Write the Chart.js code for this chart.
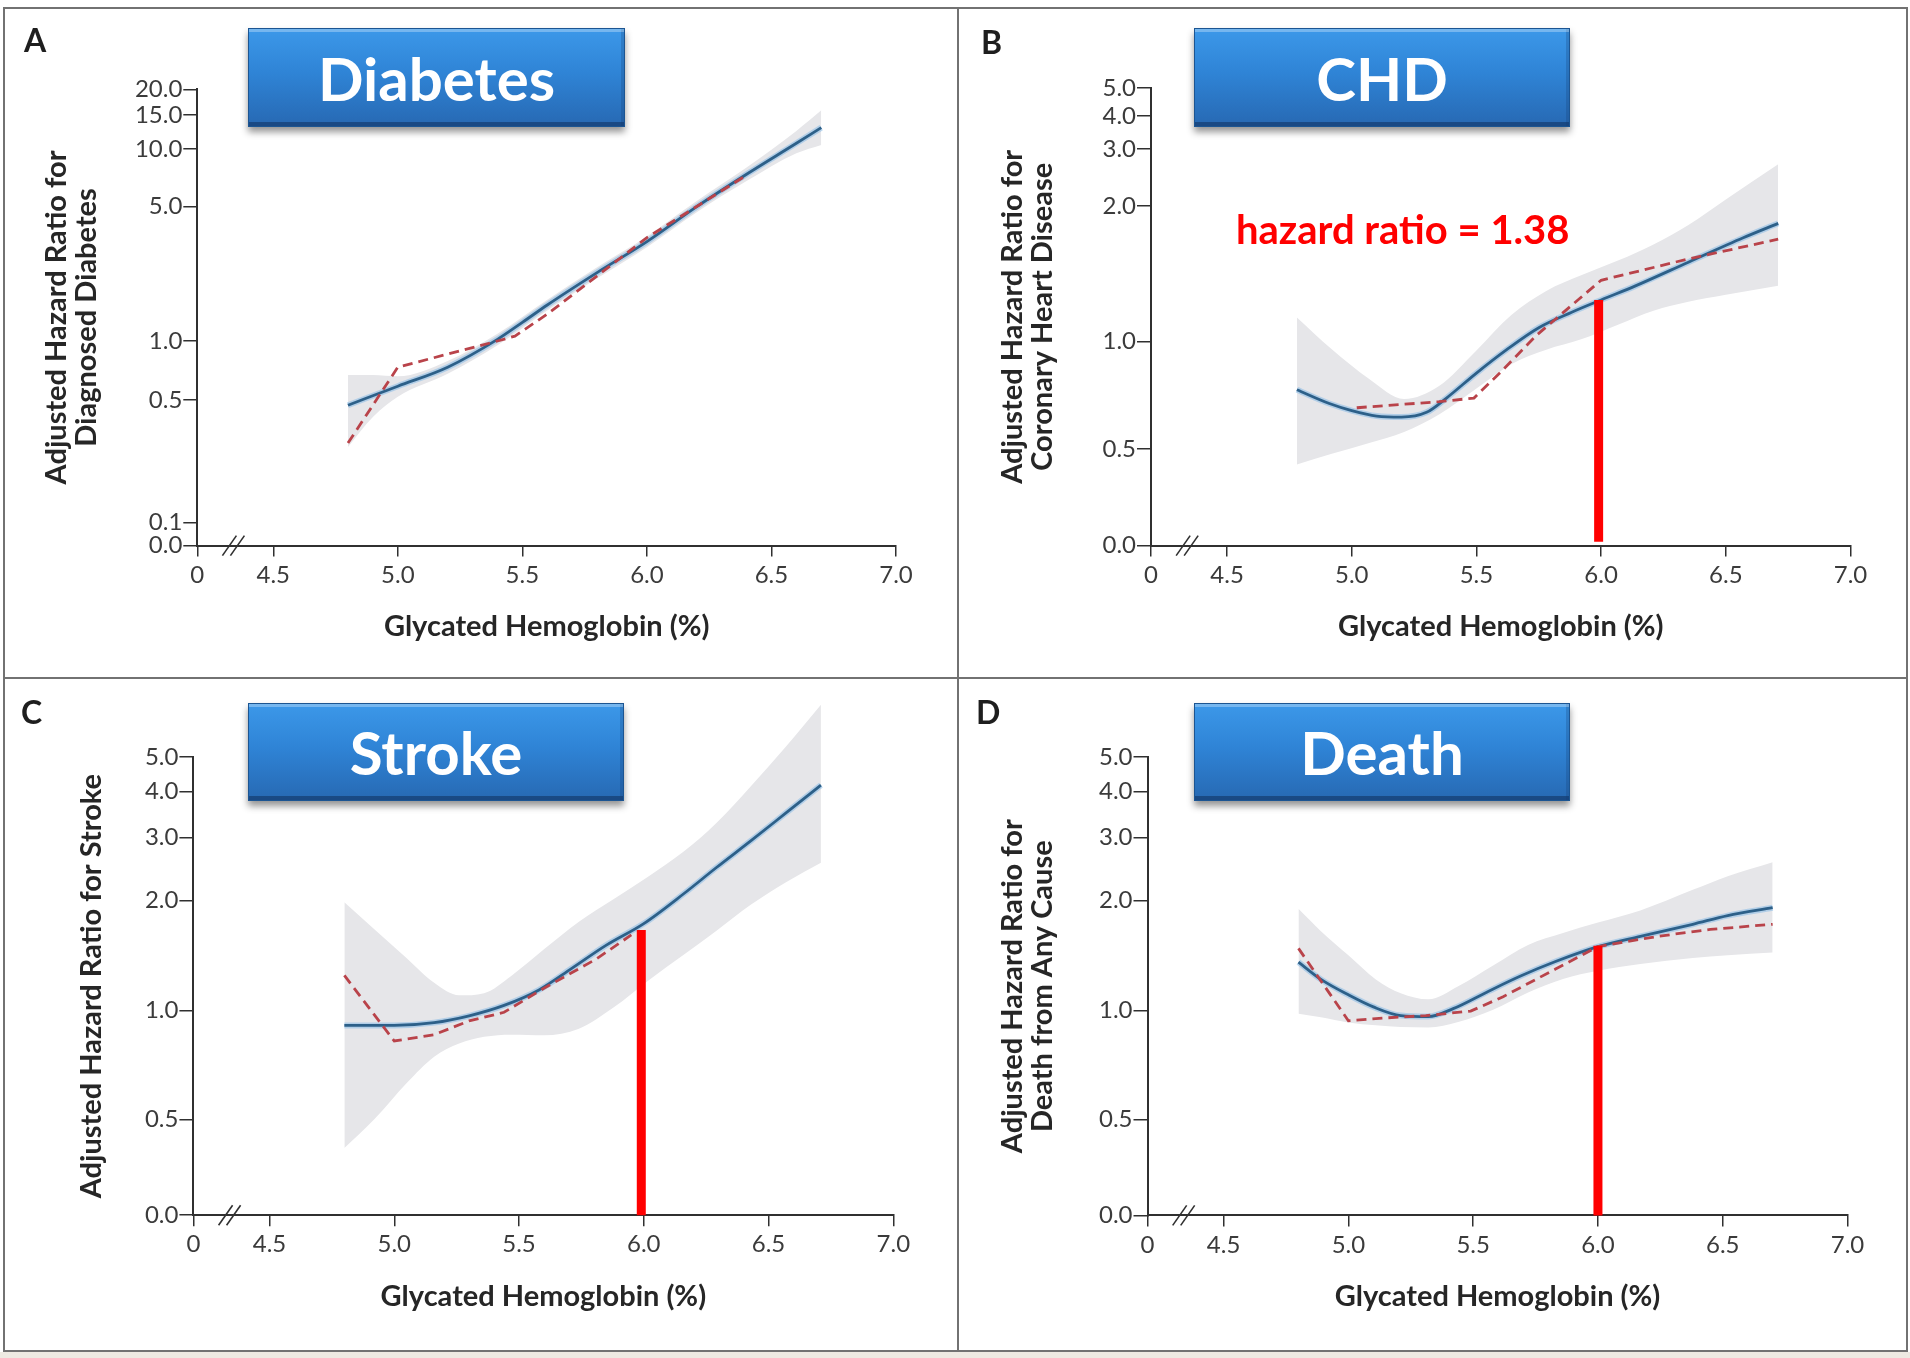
<!DOCTYPE html>
<html lang="en">
<head>
<meta charset="utf-8" />
<title>Glycated Hemoglobin and Adjusted Hazard Ratios</title>
<script src="https://cdn.jsdelivr.net/npm/chart.js@4.4"></script>
<style>
  html,body{margin:0;padding:0;background:#fff;overflow:hidden;}
  #fig{position:relative;width:1910px;height:1358px;background:#fff;font-family:Lato,'Open Sans',Arial,sans-serif;}
  #fig canvas{position:absolute;}
  .rule{position:absolute;background:#727272;}
  #strip{position:absolute;left:0;top:1352px;width:1910px;height:6px;background:#eeeae2;}

  /* panel letters */
  .letter{position:absolute;font:700 32px/32px Lato,sans-serif;color:#1e1e1e;}

  /* blue title badges */
  .badge{position:absolute;box-sizing:border-box;display:flex;align-items:center;justify-content:center;
    color:#fff;font:700 60px Lato,sans-serif;
    background:linear-gradient(#3c98e9 0%,#2f84d6 45%,#2769b3 100%);
    border:1px solid #1c5592;
    box-shadow:inset 0 3px 0 rgba(255,255,255,.30),inset -3px 0 0 rgba(20,60,110,.25),inset 0 -4px 0 rgba(16,52,100,.6),0 5px 7px rgba(0,0,0,.42);}

  .note{position:absolute;color:#ff0000;font:700 40px/40px Lato,sans-serif;white-space:nowrap;}
</style>
</head>
<body>
<div id="fig">
  <canvas id="cA"></canvas>
  <canvas id="cB"></canvas>
  <canvas id="cC"></canvas>
  <canvas id="cD"></canvas>

  <!-- frame -->
  <div class="rule" style="left:3px;top:7px;width:1905px;height:2px"></div>
  <div class="rule" style="left:3px;top:1350px;width:1905px;height:2px"></div>
  <div class="rule" style="left:3px;top:7px;width:2px;height:1345px"></div>
  <div class="rule" style="left:1906px;top:7px;width:2px;height:1345px"></div>
  <div class="rule" style="left:957px;top:7px;width:2px;height:1345px"></div>
  <div class="rule" style="left:3px;top:677px;width:1905px;height:2px"></div>
  <div id="strip"></div>

  <div class="letter" style="left:24px;top:24px">A</div>
  <div class="letter" style="left:981px;top:26px">B</div>
  <div class="letter" style="left:21px;top:696px">C</div>
  <div class="letter" style="left:976px;top:696px">D</div>

  <div class="badge" style="left:248px;top:28px;width:377px;height:99px">Diabetes</div>
  <div class="badge" style="left:1194px;top:28px;width:376px;height:99px">CHD</div>
  <div class="badge" style="left:248px;top:703px;width:376px;height:98px">Stroke</div>
  <div class="badge" style="left:1194px;top:703px;width:376px;height:98px">Death</div>

  <div class="note" style="left:1236px;top:209px">hazard ratio = 1.38</div>
</div>

<script>
/***** ---------- Data (hazard ratios) ---------- *****/
const X_MIN=4.195, X_MAX=7.0, X_BREAK=4.34;
const xTickValues=[X_MIN,4.5,5.0,5.5,6.0,6.5,7.0];
const xTickLabels=['0','4.5','5.0','5.5','6.0','6.5','7.0'];
const X_TITLE='Glycated Hemoglobin (%)';

const diabYTicks=[0,0.1,0.5,1,5,10,15,20];
const diabYTickLabels=['0.0','0.1','0.5','1.0','5.0','10.0','15.0','20.0'];
const hrYTicks=[0,0.5,1,2,3,4,5];
const hrYTickLabels=['0.0','0.5','1.0','2.0','3.0','4.0','5.0'];

// A: diagnosed diabetes
const diabSplineX=[4.8,5.0,5.2,5.4,5.5,5.6,5.8,6.0,6.2,6.4,6.6,6.7];
const diabSplineHR=[0.467,0.588,0.735,1.02,1.25,1.54,2.27,3.29,5.0,7.38,10.7,12.9];
const diabCatX=[4.8,5.0,5.4,5.47,5.6,6.0,6.4];
const diabCatHR=[0.284,0.735,1.0,1.06,1.38,3.45,7.3];
const diabBandX=[4.8,4.9,5.0,5.2,5.4,5.6,5.8,6.0,6.2,6.4,6.6,6.7];
const diabBandHi=[0.67,0.67,0.66,0.79,1.09,1.64,2.42,3.50,5.35,8.0,12.4,15.8];
const diabBandLo=[0.27,0.40,0.52,0.68,0.95,1.44,2.12,3.08,4.68,6.8,9.5,10.5];

// B: coronary heart disease
const chdSplineX=[4.78,4.91,5.0,5.1,5.2,5.3,5.38,5.5,5.62,5.75,5.88,6.0,6.14,6.35,6.57,6.71];
const chdSplineHR=[0.732,0.670,0.640,0.618,0.614,0.633,0.694,0.815,0.946,1.072,1.159,1.236,1.33,1.50,1.70,1.83];
const chdCatX=[5.02,5.35,5.49,5.6,5.74,6.0,6.35,6.71];
const chdCatHR=[0.652,0.678,0.694,0.824,1.03,1.367,1.525,1.687];
const chdBandX=[4.78,4.92,5.07,5.21,5.35,5.5,5.64,5.78,5.92,6.07,6.21,6.35,6.5,6.71];
const chdBandHi=[1.13,0.95,0.785,0.69,0.75,0.943,1.144,1.294,1.402,1.514,1.643,1.815,2.095,2.69];
const chdBandLo=[0.42,0.475,0.52,0.558,0.624,0.738,0.863,0.947,1.01,1.09,1.17,1.225,1.27,1.33];
const chdMarkX=[5.99,5.99];
const chdMarkHR=[0.02,1.236];

// C: stroke
const strokeSplineX=[4.8,5.0,5.16,5.3,5.44,5.58,5.71,5.85,6.0,6.16,6.29,6.43,6.57,6.71];
const strokeSplineHR=[0.909,0.909,0.925,0.966,1.032,1.138,1.302,1.51,1.73,2.09,2.47,2.94,3.50,4.17];
const strokeCatX=[4.8,5.0,5.16,5.3,5.44,5.6,5.81,5.95];
const strokeCatHR=[1.247,0.823,0.857,0.935,0.988,1.15,1.384,1.61];
const strokeBandX=[4.8,4.92,5.05,5.16,5.26,5.36,5.47,5.6,5.74,5.88,6.02,6.16,6.29,6.43,6.57,6.71];
const strokeBandHi=[1.98,1.67,1.39,1.19,1.10,1.115,1.245,1.47,1.75,2.02,2.34,2.74,3.28,4.15,5.35,7.0];
const strokeBandLo=[0.35,0.50,0.63,0.745,0.81,0.845,0.857,0.853,0.89,1.02,1.21,1.42,1.65,1.95,2.25,2.55];
const strokeMarkX=[5.99,5.99];
const strokeMarkHR=[0,1.66];

// D: death from any cause
const deathSplineX=[4.8,4.89,5.0,5.1,5.21,5.32,5.42,5.56,5.69,5.83,6.0,6.17,6.38,6.52,6.7];
const deathSplineHR=[1.357,1.217,1.104,1.023,0.968,0.962,1.012,1.128,1.243,1.362,1.496,1.597,1.723,1.82,1.913];
const deathCatX=[4.8,5.0,5.14,5.31,5.49,5.62,5.83,6.0,6.24,6.45,6.7];
const deathCatHR=[1.48,0.937,0.953,0.968,0.996,1.091,1.299,1.496,1.597,1.668,1.723];
const deathBandX=[4.8,4.89,5.0,5.11,5.21,5.32,5.44,5.58,5.72,5.86,6.0,6.17,6.38,6.52,6.7];
const deathBandHi=[1.90,1.65,1.417,1.217,1.115,1.073,1.165,1.328,1.513,1.632,1.742,1.88,2.144,2.34,2.56];
const deathBandLo=[0.979,0.958,0.927,0.91,0.90,0.898,0.93,1.005,1.12,1.22,1.285,1.34,1.393,1.417,1.442];
const deathMarkX=[6.0,6.0];
const deathMarkHR=[0,1.505];

/***** ---------- Y scale geometry (tick position as fraction of axis height) ---------- *****/
const Y_GEOMETRY={
  A:{ticks:diabYTicks,labels:diabYTickLabels,pos:[0,0.0504,0.3191,0.4484,0.7427,0.8692,0.9437,1]},
  B:{ticks:hrYTicks,labels:hrYTickLabels,pos:[0,0.2111,0.4465,0.7421,0.8671,0.9384,1]},
  C:{ticks:hrYTicks,labels:hrYTickLabels,pos:[0,0.2093,0.447,0.6866,0.8243,0.9243,1]},
  D:{ticks:hrYTicks,labels:hrYTickLabels,pos:[0,0.2093,0.447,0.6866,0.8243,0.9243,1]}
};

/***** ---------- Colours / fonts ---------- *****/
const AXIS='#303030', TICK_TXT='#3b3b3b', TITLE_TXT='#262626';
const BAND='#e6e6e9', BLUE='#2d6089', BLUE_GLOW='rgba(135,185,230,0.55)', RED_DASH='#b9434a', MARK='#ff0000';
const TITLE_PX=29, TITLE_LH=30/29, TICK_PX=24;

Chart.defaults.font.family="Lato,'Open Sans',sans-serif";

/***** ---------- Piecewise (log between ticks) y scale ---------- *****/
class AnchoredScale extends Chart.LinearScale{
  static id='anchored';
  static defaults={};
  _geo(){return Y_GEOMETRY[this.options.panel];}
  buildTicks(){
    const g=this._geo();
    this.min=g.ticks[0];this.max=g.ticks[g.ticks.length-1];
    return g.ticks.map(value=>({value}));
  }
  _fraction(v){
    const {ticks:t,pos:f}=this._geo();
    let i=0;
    while(i<t.length-2 && v>t[i+1]) i++;
    const a=t[i],b=t[i+1];
    const k=a>0?Math.log(v/a)/Math.log(b/a):(v-a)/(b-a);
    return f[i]+k*(f[i+1]-f[i]);
  }
  getPixelForValue(v){return this.bottom-this._fraction(v)*(this.bottom-this.top);}
}
Chart.register(AnchoredScale);

/***** ---------- Plugins ---------- *****/
// "//" break mark on the x axis
const axisBreak={
  id:'axisBreak',
  afterDraw(chart){
    const {ctx,chartArea,scales:{x}}=chart;
    const px=x.getPixelForValue(X_BREAK),py=chartArea.bottom;
    ctx.save();ctx.strokeStyle=AXIS;ctx.lineWidth=1.6;
    [-4,4].forEach(o=>{ctx.beginPath();ctx.moveTo(px+o-7,py+10);ctx.lineTo(px+o+7,py-10);ctx.stroke();});
    ctx.restore();
  }
};
// let the confidence band run above the top tick (panel C)
const bandOverflow={
  id:'bandOverflow',
  beforeDatasetsDraw(chart){chart.$top=chart.chartArea.top;chart.chartArea.top=0;},
  afterDatasetsDraw(chart){chart.chartArea.top=chart.$top;}
};

/***** ---------- Panels ---------- *****/
const pts=(xs,ys)=>xs.map((x,i)=>({x,y:ys[i]}));
function datasets(s){
  const base={pointRadius:0,clip:false,capBezierPoints:false};
  return [
    {...base,data:pts(s.markX||[],s.markY||[]),borderColor:MARK,borderWidth:9,borderCapStyle:'butt'},
    {...base,data:pts(s.catX,s.catY),borderColor:RED_DASH,borderWidth:2.8,borderDash:[10,6]},
    {...base,data:pts(s.splX,s.splY),borderColor:BLUE,borderWidth:2.8,cubicInterpolationMode:'monotone'},
    {...base,data:pts(s.splX,s.splY),borderColor:BLUE_GLOW,borderWidth:6,cubicInterpolationMode:'monotone'},
    {...base,data:pts(s.bandX,s.bandHi),borderColor:'rgba(0,0,0,0)',borderWidth:0,backgroundColor:BAND,fill:'+1',cubicInterpolationMode:'monotone'},
    {...base,data:pts(s.bandX,s.bandLo),borderColor:'rgba(0,0,0,0)',borderWidth:0,fill:false,cubicInterpolationMode:'monotone'}
  ];
}

const PANELS=[
  {key:'A',canvas:'cA',box:[5,9,951,667],area:[197.3,89.3,896,545.6],titleX:57,
   yTitle:['Adjusted Hazard Ratio for','Diagnosed Diabetes'],
   series:{splX:diabSplineX,splY:diabSplineHR,catX:diabCatX,catY:diabCatHR,bandX:diabBandX,bandHi:diabBandHi,bandLo:diabBandLo}},
  {key:'B',canvas:'cB',box:[959,9,946,667],area:[1151,88,1850.5,545.6],titleX:1013,
   yTitle:['Adjusted Hazard Ratio for','Coronary Heart Disease'],
   series:{splX:chdSplineX,splY:chdSplineHR,catX:chdCatX,catY:chdCatHR,bandX:chdBandX,bandHi:chdBandHi,bandLo:chdBandLo,markX:chdMarkX,markY:chdMarkHR}},
  {key:'C',canvas:'cC',box:[5,679,951,670],area:[193.4,757,893.3,1215.2],titleX:92,
   yTitle:'Adjusted Hazard Ratio for Stroke',
   series:{splX:strokeSplineX,splY:strokeSplineHR,catX:strokeCatX,catY:strokeCatHR,bandX:strokeBandX,bandHi:strokeBandHi,bandLo:strokeBandLo,markX:strokeMarkX,markY:strokeMarkHR}},
  {key:'D',canvas:'cD',box:[959,679,946,670],area:[1147.5,757,1847.5,1215.4],titleX:1013,
   yTitle:['Adjusted Hazard Ratio for','Death from Any Cause'],
   series:{splX:deathSplineX,splY:deathSplineHR,catX:deathCatX,catY:deathCatHR,bandX:deathBandX,bandHi:deathBandHi,bandLo:deathBandLo,markX:deathMarkX,markY:deathMarkHR}}
];

function makeChart(p){
  const [bx,by,bw,bh]=p.box,[al,at,ar,ab]=p.area;
  const cv=document.getElementById(p.canvas);
  cv.width=bw;cv.height=bh;
  cv.style.left=bx+'px';cv.style.top=by+'px';cv.style.width=bw+'px';cv.style.height=bh+'px';
  const lh=TITLE_PX*TITLE_LH, padL=8, xAxisH=81+lh/2;
  const labels=Y_GEOMETRY[p.key].labels;
  const titleFont={size:TITLE_PX,weight:'bold',lineHeight:TITLE_LH};
  return new Chart(cv,{
    type:'line',
    data:{datasets:datasets(p.series)},
    options:{
      responsive:false,animation:false,events:[],
      layout:{padding:{left:padL,top:at-by,right:bx+bw-ar,bottom:by+bh-ab-xAxisH}},
      plugins:{legend:{display:false},tooltip:{enabled:false}},
      scales:{
        x:{type:'linear',min:X_MIN,max:X_MAX,
          afterBuildTicks:s=>{s.ticks=xTickValues.map(value=>({value}));},
          afterFit:s=>{s.height=xAxisH;},
          grid:{drawOnChartArea:false,drawTicks:true,tickLength:11,color:AXIS,lineWidth:1.5},
          border:{display:true,color:AXIS,width:2},
          ticks:{autoSkip:false,maxRotation:0,padding:4,color:TICK_TXT,font:{size:TICK_PX},callback:(v,i)=>xTickLabels[i]},
          title:{display:true,text:X_TITLE,color:TITLE_TXT,font:titleFont,padding:0}},
        y:{type:'anchored',panel:p.key,
          afterFit:s=>{s.width=al-bx-padL;},
          grid:{drawOnChartArea:false,drawTicks:true,tickLength:14,color:AXIS,lineWidth:1.5},
          border:{display:true,color:AXIS,width:2},
          ticks:{autoSkip:false,padding:1,color:TICK_TXT,font:{size:TICK_PX},callback:(v,i)=>labels[i]},
          title:{display:true,text:p.yTitle,color:TITLE_TXT,font:titleFont,padding:{top:p.titleX-bx-padL-lh/2,bottom:0}}}
      }
    },
    plugins:[axisBreak,bandOverflow]
  });
}
PANELS.forEach(makeChart);
</script>
</body>
</html>
